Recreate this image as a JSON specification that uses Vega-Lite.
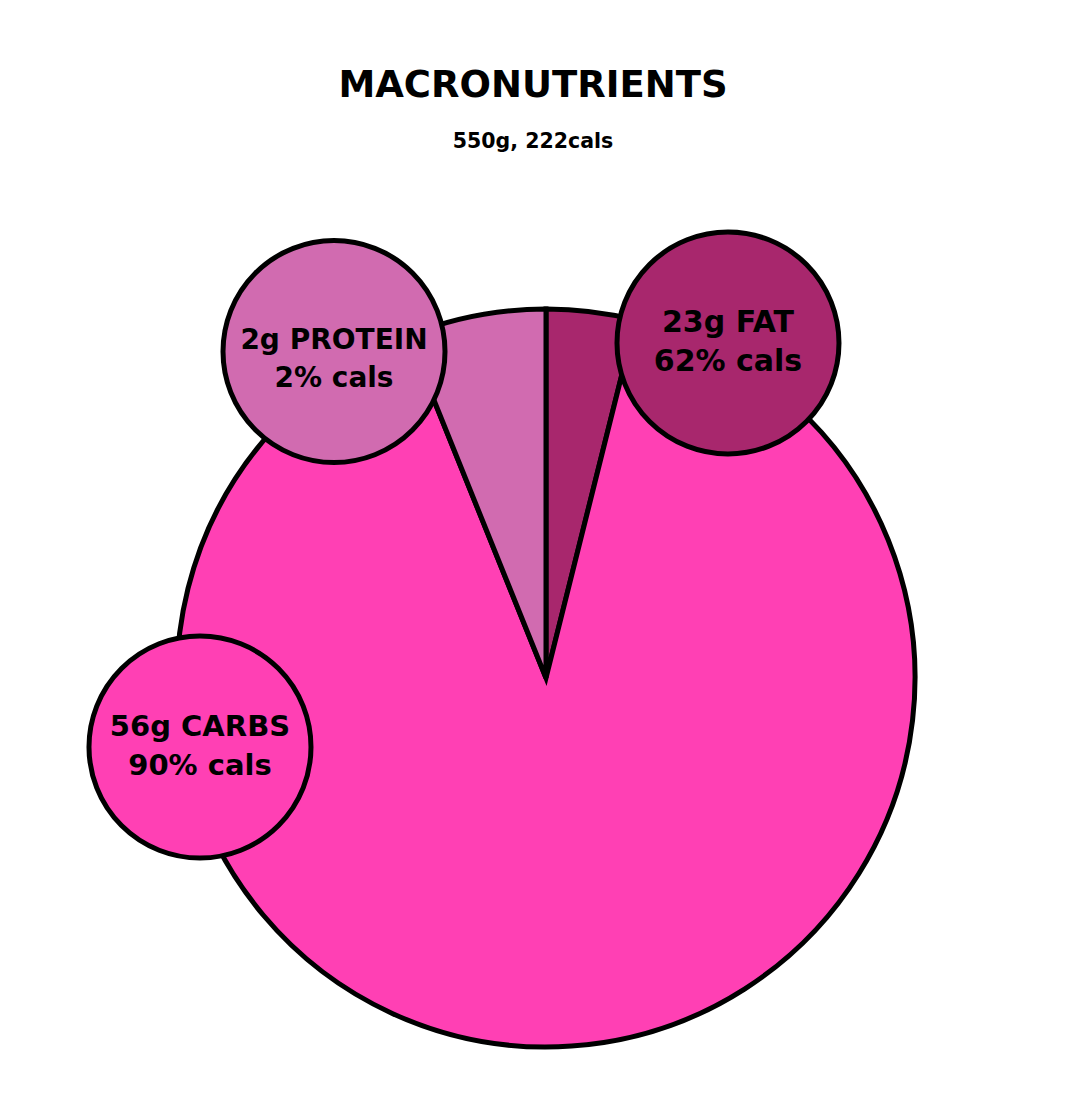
{
  "$schema": "https://vega.github.io/schema/vega-lite/v6.json",
  "width": 1066,
  "height": 931,
  "autosize": {"type": "none"},
  "padding": {"top": 170, "left": 0, "right": 0, "bottom": 0},
  "background": "white",
  "config": {"view": {"stroke": null}},
  "title": {
    "text": "MACRONUTRIENTS",
    "subtitle": "550g, 222cals",
    "anchor": "middle",
    "font": "DejaVu Sans",
    "fontSize": 37,
    "fontWeight": "bold",
    "color": "black",
    "subtitleFont": "DejaVu Sans",
    "subtitleFontSize": 20.5,
    "subtitleFontWeight": "bold",
    "subtitleColor": "black",
    "subtitlePadding": 27,
    "offset": 17
  },
  "datasets": {
    "macros": [
      {"nutrient": "FAT", "grams": 23, "pctCals": 62, "share": 3.9, "rank": 1, "label": ["23g FAT", "62% cals"]},
      {"nutrient": "CARBS", "grams": 56, "pctCals": 90, "share": 90.0, "rank": 2, "label": ["56g CARBS", "90% cals"]},
      {"nutrient": "PROTEIN", "grams": 2, "pctCals": 2, "share": 6.1, "rank": 3, "label": ["2g PROTEIN", "2% cals"]}
    ]
  },
  "data": {"name": "macros"},
  "layer": [
    {
      "mark": {"type": "arc", "outerRadius": 369, "stroke": "black", "strokeWidth": 5, "strokeJoin": "miter"},
      "encoding": {
        "theta": {"field": "share", "type": "quantitative", "stack": true},
        "order": {"field": "rank", "type": "quantitative"},
        "color": {"field": "nutrient", "type": "nominal", "scale": {"domain": ["FAT", "CARBS", "PROTEIN"], "range": ["#A8276D", "#FF40B4", "#D16BB0"]}, "legend": null},
        "x": {"datum": 0, "type": "quantitative", "scale": {"domain": [-1.47967, 1.40921], "nice": false, "zero": false}, "axis": null},
        "y": {"datum": 0, "type": "quantitative", "scale": {"domain": [-1.14634, 1.37669], "nice": false, "zero": false}, "axis": null}
      }
    },
    {
      "transform": [{"filter": "datum.nutrient === 'PROTEIN'"}],
      "encoding": {
        "x": {"datum": -0.5745, "type": "quantitative"},
        "y": {"datum": 0.8848, "type": "quantitative"}
      },
      "layer": [
        {"mark": {"type": "circle", "size": 49284, "opacity": 1, "stroke": "black", "strokeWidth": 5},
         "encoding": {"color": {"field": "nutrient", "type": "nominal", "legend": null}}},
        {"mark": {"type": "text", "font": "DejaVu Sans", "fontWeight": "bold", "fontSize": 28, "lineHeight": 38.5, "baseline": "alphabetic", "align": "center", "dy": -3, "color": "black"},
         "encoding": {"text": {"field": "label"}}}
      ]
    },
    {
      "transform": [{"filter": "datum.nutrient === 'FAT'"}],
      "encoding": {
        "x": {"datum": 0.4932, "type": "quantitative"},
        "y": {"datum": 0.9079, "type": "quantitative"}
      },
      "layer": [
        {"mark": {"type": "circle", "size": 49284, "opacity": 1, "stroke": "black", "strokeWidth": 5},
         "encoding": {"color": {"field": "nutrient", "type": "nominal", "legend": null}}},
        {"mark": {"type": "text", "font": "DejaVu Sans", "fontWeight": "bold", "fontSize": 30, "lineHeight": 39.5, "baseline": "alphabetic", "align": "center", "dy": -11, "color": "black"},
         "encoding": {"text": {"field": "label"}}}
      ]
    },
    {
      "transform": [{"filter": "datum.nutrient === 'CARBS'"}],
      "encoding": {
        "x": {"datum": -0.9377, "type": "quantitative"},
        "y": {"datum": -0.187, "type": "quantitative"}
      },
      "layer": [
        {"mark": {"type": "circle", "size": 49284, "opacity": 1, "stroke": "black", "strokeWidth": 5},
         "encoding": {"color": {"field": "nutrient", "type": "nominal", "legend": null}}},
        {"mark": {"type": "text", "font": "DejaVu Sans", "fontWeight": "bold", "fontSize": 29, "lineHeight": 39, "baseline": "alphabetic", "align": "center", "dy": -11, "color": "black"},
         "encoding": {"text": {"field": "label"}}}
      ]
    }
  ]
}
